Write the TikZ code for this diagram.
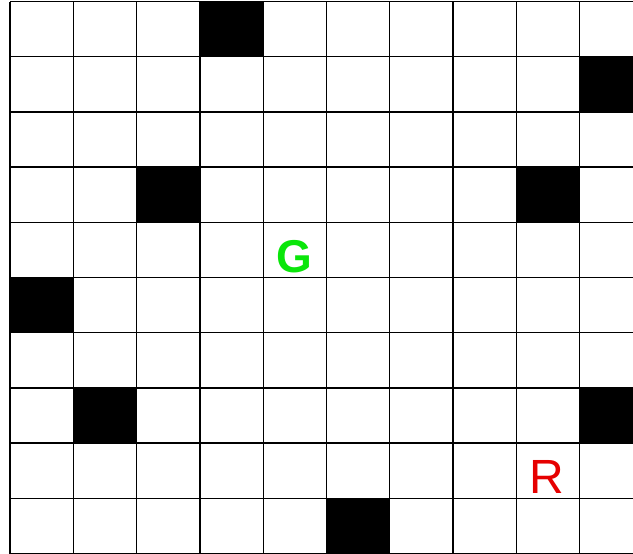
\documentclass[tikz,border=0pt]{standalone}
\usepackage{fontspec}
\setsansfont{Liberation Sans}

\begin{document}
\begin{tikzpicture}[x=1pt,y=-1pt]
\tikzset{
  gridline/.style={line width=1.3pt,black},
  wall/.style={fill=black},
  marker/.style={font=\sffamily\fontsize{48}{48}\selectfont,inner sep=0pt}
}
\useasboundingbox (0,0) rectangle (633,554);
\fill[white] (0,0) rectangle (633,554);
% blocked cells (column, row)
\foreach \c/\r in {3/0,9/1,2/3,8/3,0/5,1/7,9/7,5/9}
  \fill[wall] ({10+\c*63.3},{1.5+\r*55.2}) rectangle ({10+(\c+1)*63.3},{1.5+(\r+1)*55.2});
% grid
\foreach \r in {0,...,10}
  \draw[gridline] (10,{1.5+\r*55.2}) -- (633,{1.5+\r*55.2});
\foreach \c in {0,...,9}
  \draw[gridline] ({10+\c*63.3},1.5) -- ({10+\c*63.3},553.5);
\node[marker,font=\sffamily\bfseries\fontsize{46}{46}\selectfont,text={rgb,255:red,10;green,230;blue,10}] (goal) at (294,257) {G};
\node[marker,text={rgb,255:red,230;green,0;blue,0}] (robot) at (547,477) {R};
\end{tikzpicture}
\end{document}
